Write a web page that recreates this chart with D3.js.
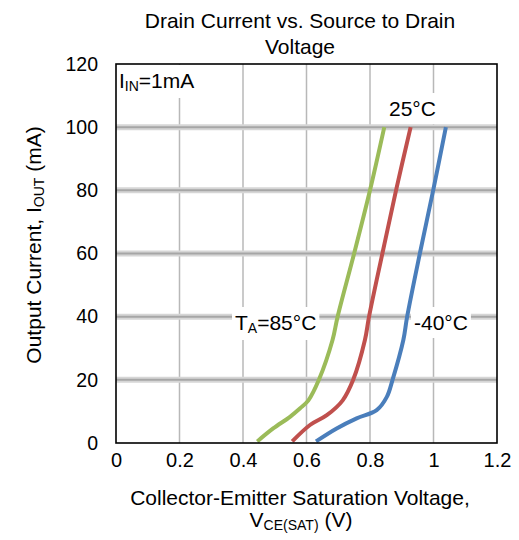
<!DOCTYPE html>
<html>
<head>
<meta charset="utf-8">
<script src="https://cdn.jsdelivr.net/npm/d3@7"></script>
<style>
  body { margin: 0; background: #fff; }
  svg { display: block; font-family: "Liberation Sans", Arial, sans-serif; }
</style>
</head>
<body>
<div id="chart"></div>
<script>
// axis ticks
const voltTicks = [0, 0.2, 0.4, 0.6, 0.8, 1.0, 1.2]
const currentTicks = [0, 20, 40, 60, 80, 100, 120]

// curves: V_CE(SAT) (V) against I_OUT (mA)
const volts85 = [0.445, 0.495, 0.548, 0.58, 0.606, 0.639, 0.682, 0.698, 0.75, 0.80, 0.845]
const amps85 = [0.5, 4.6, 8.3, 11, 13.5, 20, 32.6, 40, 60, 80, 100]
const volts25 = [0.555, 0.611, 0.664, 0.714, 0.747, 0.784, 0.797, 0.839, 0.882, 0.928]
const amps25 = [0.5, 5.7, 8.8, 13.5, 20, 32.6, 40, 60, 80, 100]
const voltsM40 = [0.63, 0.695, 0.758, 0.821, 0.853, 0.871, 0.905, 0.917, 0.957, 0.999, 1.039]
const ampsM40 = [0.5, 4.6, 7.8, 10.4, 14.6, 20, 32.6, 40, 60, 80, 100]

const width = 519, height = 540
const plotLeft = 116, plotRight = 497, plotTop = 64, plotBottom = 443
const font = "\"Liberation Sans\", Arial, sans-serif"

const svg = d3.select("#chart").append("svg")
    .attr("width", width)
    .attr("height", height)

const x = d3.scaleLinear().domain([0, 1.2]).range([plotLeft, plotRight])
const y = d3.scaleLinear().domain([0, 120]).range([plotBottom, plotTop])

// title
const title = svg.append("text")
    .attr("text-anchor", "middle")
    .attr("font-size", 21)
title.append("tspan").attr("x", 300).attr("y", 28).text("Drain Current vs. Source to Drain")
title.append("tspan").attr("x", 300).attr("y", 54).text("Voltage")

// grid
svg.append("g")
    .selectAll("line")
    .data(voltTicks.slice(1, -1))
    .join("line")
        .attr("x1", d => x(d)).attr("x2", d => x(d))
        .attr("y1", plotTop).attr("y2", plotBottom)
        .attr("stroke", "#b8b8b8")
        .attr("stroke-width", 1.5)

const hGrid = svg.append("g")
    .selectAll("g")
    .data(currentTicks.slice(1, -1))
    .join("g")
hGrid.append("line")
    .attr("x1", plotLeft).attr("x2", plotRight)
    .attr("y1", d => y(d)).attr("y2", d => y(d))
    .attr("stroke", "#d6d6d6")
    .attr("stroke-width", 6)
hGrid.append("line")
    .attr("x1", plotLeft).attr("x2", plotRight)
    .attr("y1", d => y(d)).attr("y2", d => y(d))
    .attr("stroke", "#a6a6a6")
    .attr("stroke-width", 2)

// curves
const series = [
    {name: "85", color: "#9bbb59", volts: volts85, amps: amps85},
    {name: "25", color: "#c0504d", volts: volts25, amps: amps25},
    {name: "-40", color: "#4a7ebb", volts: voltsM40, amps: ampsM40}
]

const line = d3.line()
    .x(d => x(d[0]))
    .y(d => y(d[1]))
    .curve(d3.curveCatmullRom.alpha(0.5))

svg.append("g")
    .selectAll("path")
    .data(series)
    .join("path")
        .attr("d", s => line(s.volts.map((v, i) => [v, s.amps[i]])))
        .attr("fill", "none")
        .attr("stroke", s => s.color)
        .attr("stroke-width", 4)

// labels with white boxes behind them
function label(xPos, yPos, parts) {
    const g = svg.append("g")
    const rect = g.append("rect").attr("fill", "#fff")
    const t = g.append("text")
        .attr("x", xPos)
        .attr("y", yPos)
        .attr("font-size", 21)
    parts.forEach(p => {
        const span = t.append("tspan").text(p.text)
        if (p.sub) span.attr("font-size", 14).attr("dy", 3)
        else if (p.after) span.attr("dy", -3)
    })
    const b = t.node().getBBox()
    rect.attr("x", b.x - 3).attr("y", b.y - 4)
        .attr("width", b.width + 6).attr("height", b.height + 8)
}

label(119, 88, [{text: "I"}, {text: "IN", sub: true}, {text: "=1mA", after: true}])
label(389, 116, [{text: "25°C"}])
label(235, 330, [{text: "T"}, {text: "A", sub: true}, {text: "=85°C", after: true}])
label(414, 330, [{text: "-40°C"}])

// frame
svg.append("rect")
    .attr("x", plotLeft).attr("y", plotTop)
    .attr("width", plotRight - plotLeft).attr("height", plotBottom - plotTop)
    .attr("fill", "none")
    .attr("stroke", "#000")
    .attr("stroke-width", 1.6)

// axes
const xAxis = svg.append("g")
    .attr("transform", `translate(0,${plotBottom})`)
    .call(d3.axisBottom(x).tickValues(voltTicks).tickSize(0).tickPadding(10).tickFormat(d3.format("~g")))
xAxis.select(".domain").remove()
xAxis.selectAll("text").attr("font-size", 20).attr("font-family", font).attr("fill", "#000")

const yAxis = svg.append("g")
    .attr("transform", `translate(${plotLeft},0)`)
    .call(d3.axisLeft(y).tickValues(currentTicks).tickSize(0).tickPadding(18))
yAxis.select(".domain").remove()
yAxis.selectAll("text").attr("font-size", 19.5).attr("font-family", font).attr("fill", "#000")

// axis titles
const xTitle = svg.append("text")
    .attr("text-anchor", "middle")
    .attr("font-size", 21)
xTitle.append("tspan").attr("x", 300).attr("y", 505).text("Collector-Emitter Saturation Voltage,")
const xLine2 = svg.append("text")
    .attr("text-anchor", "middle")
    .attr("x", 301).attr("y", 527)
    .attr("font-size", 21)
xLine2.append("tspan").text("V")
xLine2.append("tspan").attr("font-size", 14).attr("dy", 3).text("CE(SAT)")
xLine2.append("tspan").attr("dy", -3).text(" (V)")

const yTitle = svg.append("text")
    .attr("text-anchor", "middle")
    .attr("transform", "translate(41,245) rotate(-90)")
    .attr("font-size", 21)
yTitle.append("tspan").text("Output Current, I")
yTitle.append("tspan").attr("font-size", 14).attr("dy", 3).text("OUT")
yTitle.append("tspan").attr("dy", -3).text(" (mA)")
</script>
</body>
</html>
